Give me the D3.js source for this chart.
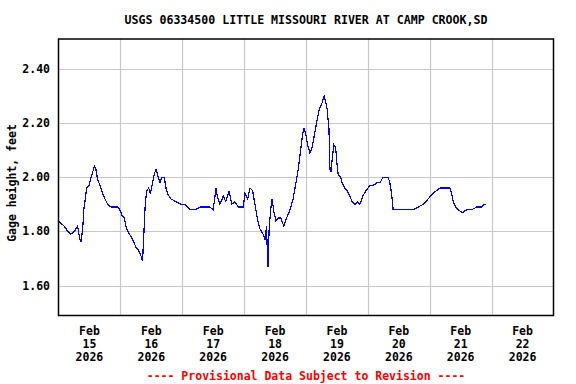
<!DOCTYPE html>
<html lang="en">
<head>
<meta charset="UTF-8">
<title>USGS gage height</title>
<script src="https://d3js.org/d3.v7.min.js"></script>
<style>
  body, html { margin: 0; padding: 0; background: #fff; }
  text { font-family: "DejaVu Sans Mono", "Liberation Mono", monospace; font-weight: bold; }
</style>
</head>
<body>
<div id="chart"></div>
<script>
// hours since 2026-02-15 00:00 and gage height (feet)
const hours = [0, 1, 2.2, 3.6, 4.8, 6.1, 7.4, 8.1, 8.7, 9.4, 9.8, 10.4, 10.9, 11.9, 12.6, 13.3, 13.9, 14.5,
  15.2, 16.1, 17.1, 18.0, 19.1, 20.4, 21.6, 23.0, 23.8, 24.6, 25.5, 26.4, 27.5, 28.8, 30.1, 31.1, 32.0,
  32.6, 33.0, 33.7, 34.3, 35.0, 35.6, 36.5, 37.1, 37.8, 38.4, 39.4, 40.1, 41.0, 41.7, 42.3, 43.6, 45.6,
  47.5, 49.1, 51.0, 52.9, 54.9, 56.8, 58.7, 60.0, 61.1, 61.6, 62.6, 63.9, 64.9, 66.2, 67.2, 68.4, 69.7,
  71.7, 72.3, 73.4, 74.3, 75.3, 76.2, 77.1, 78.1, 79.4, 80.1, 80.7, 81.1, 81.3, 81.7, 82.3, 82.8, 83.6,
  84.3, 85.2, 86.2, 87.4, 88.5, 89.8, 91.0, 92.1, 93.0, 93.9, 94.7, 95.2, 95.9, 96.6, 97.5, 98.4, 99.5,
  100.3, 101.1, 102.1, 103.0, 103.6, 104.2, 104.9, 105.3, 105.7, 106.2, 106.8, 107.5, 107.9, 108.5,
  109.4, 110.0, 111.1, 112.0, 113.0, 113.9, 115.0, 116.0, 116.9, 118.0, 119.2, 120.8, 122.1, 123.6,
  124.7, 125.9, 127.9, 128.5, 129.2, 129.8, 132.4, 135.0, 137.6, 139.5, 141.5, 143.4, 145.1, 146.6,
  147.9, 149.9, 151.8, 152.5, 153.1, 154.1, 155.0, 156.7, 158.3, 160.2, 162.2, 164.1, 165.0, 165.8];
const gage = [1.84, 1.83, 1.82, 1.80, 1.79, 1.80, 1.82, 1.78, 1.76, 1.81, 1.88, 1.92, 1.96, 1.97, 2.00, 2.02, 2.04, 2.03,
  1.99, 1.97, 1.94, 1.92, 1.90, 1.89, 1.89, 1.89, 1.88, 1.86, 1.85, 1.81, 1.79, 1.77, 1.74, 1.73, 1.71,
  1.69, 1.77, 1.91, 1.95, 1.96, 1.94, 1.98, 2.01, 2.03, 2.01, 1.98, 2.00, 2.00, 1.96, 1.94, 1.92, 1.91,
  1.90, 1.90, 1.88, 1.88, 1.89, 1.89, 1.89, 1.88, 1.96, 1.93, 1.90, 1.93, 1.91, 1.95, 1.90, 1.91, 1.89,
  1.89, 1.94, 1.92, 1.96, 1.95, 1.90, 1.85, 1.81, 1.79, 1.77, 1.82, 1.69, 1.67, 1.81, 1.88, 1.92, 1.87,
  1.84, 1.85, 1.85, 1.82, 1.85, 1.88, 1.92, 1.98, 2.03, 2.10, 2.16, 2.18, 2.16, 2.12, 2.09, 2.11, 2.17,
  2.21, 2.25, 2.27, 2.30, 2.28, 2.25, 2.18, 2.03, 2.02, 2.07, 2.12, 2.11, 2.06, 2.01,
  2.00, 1.98, 1.96, 1.95, 1.93, 1.91, 1.90, 1.91, 1.90, 1.93, 1.95, 1.97, 1.97, 1.98,
  1.98, 2.00, 2.00, 1.98, 1.94, 1.88, 1.88, 1.88, 1.88, 1.89, 1.90, 1.92, 1.94, 1.95,
  1.96, 1.96, 1.96, 1.94, 1.91, 1.89, 1.88, 1.87, 1.88, 1.88, 1.89, 1.89, 1.90, 1.90];
const yTicks = [1.60, 1.80, 2.00, 2.20, 2.40];
const dayLabels = ["15", "16", "17", "18", "19", "20", "21", "22"];
const monthLabel = "Feb";
const yearLabel = "2026";
const title = "USGS 06334500 LITTLE MISSOURI RIVER AT CAMP CROOK,SD";
const yTitle = "Gage height, feet";
const footer = "---- Provisional Data Subject to Revision ----";

const width = 576, height = 384;
const plotLeft = 58.5, plotRight = 553.5, plotTop = 39, plotBottom = 315.5;
const start = new Date(2026, 1, 15);
const toDate = h => new Date(start.getTime() + h * 3600e3);

const x = d3.scaleTime().domain([start, new Date(2026, 1, 23)]).range([plotLeft, plotRight]);
const y = d3.scaleLinear().domain([1.49, 2.51]).range([plotBottom, plotTop]);

const svg = d3.select("#chart").append("svg")
  .attr("width", width).attr("height", height);

// grid
const days = d3.timeDay.range(new Date(2026, 1, 16), new Date(2026, 1, 23));
svg.append("g").selectAll("line").data(days).join("line")
  .attr("x1", d => Math.round(x(d)) + 0.5).attr("x2", d => Math.round(x(d)) + 0.5)
  .attr("y1", plotTop).attr("y2", plotBottom)
  .attr("stroke", "#c8c8c8").attr("stroke-width", 1.2);
svg.append("g").selectAll("line").data(yTicks).join("line")
  .attr("x1", plotLeft).attr("x2", plotRight)
  .attr("y1", d => Math.round(y(d)) + 0.5).attr("y2", d => Math.round(y(d)) + 0.5)
  .attr("stroke", "#c8c8c8").attr("stroke-width", 1.2);

// data line
const line = d3.line()
  .x((d, i) => x(toDate(hours[i])))
  .y(d => y(d));
svg.append("path")
  .attr("d", line(gage))
  .attr("fill", "none")
  .attr("stroke", "#0000ff")
  .attr("stroke-width", 1.2)
  .attr("shape-rendering", "crispEdges");

// frame
svg.append("rect")
  .attr("x", plotLeft).attr("y", plotTop)
  .attr("width", plotRight - plotLeft).attr("height", plotBottom - plotTop)
  .attr("fill", "none").attr("stroke", "#000").attr("stroke-width", 1.5);

// y tick labels
svg.append("g").selectAll("text").data(yTicks).join("text")
  .attr("x", 50).attr("y", d => y(d) + 4)
  .attr("text-anchor", "end")
  .style("font-size", "11.5px")
  .text(d => d.toFixed(2));

// x tick labels (at noon of each day)
const noons = d3.timeDay.range(start, new Date(2026, 1, 23)).map(d => d3.timeHour.offset(d, 12));
const xl = svg.append("g").selectAll("text").data(noons).join("text")
  .attr("x", d => x(d))
  .attr("text-anchor", "middle")
  .style("font-size", "11.5px");
xl.append("tspan").attr("x", d => x(d)).attr("y", 335).text(monthLabel);
xl.append("tspan").attr("x", d => x(d)).attr("y", 348).text((d, i) => dayLabels[i]);
xl.append("tspan").attr("x", d => x(d)).attr("y", 361).text(yearLabel);

// titles
svg.append("text")
  .attr("x", (plotLeft + plotRight) / 2).attr("y", 24)
  .attr("text-anchor", "middle")
  .style("font-size", "11.6px")
  .text(title);

svg.append("text")
  .attr("transform", `translate(16,183) rotate(-90)`)
  .attr("text-anchor", "middle")
  .style("font-size", "11.5px")
  .text(yTitle);

svg.append("text")
  .attr("x", (plotLeft + plotRight) / 2).attr("y", 380)
  .attr("text-anchor", "middle")
  .attr("fill", "#ff0000")
  .style("font-size", "11.5px")
  .text(footer);
</script>
</body>
</html>
